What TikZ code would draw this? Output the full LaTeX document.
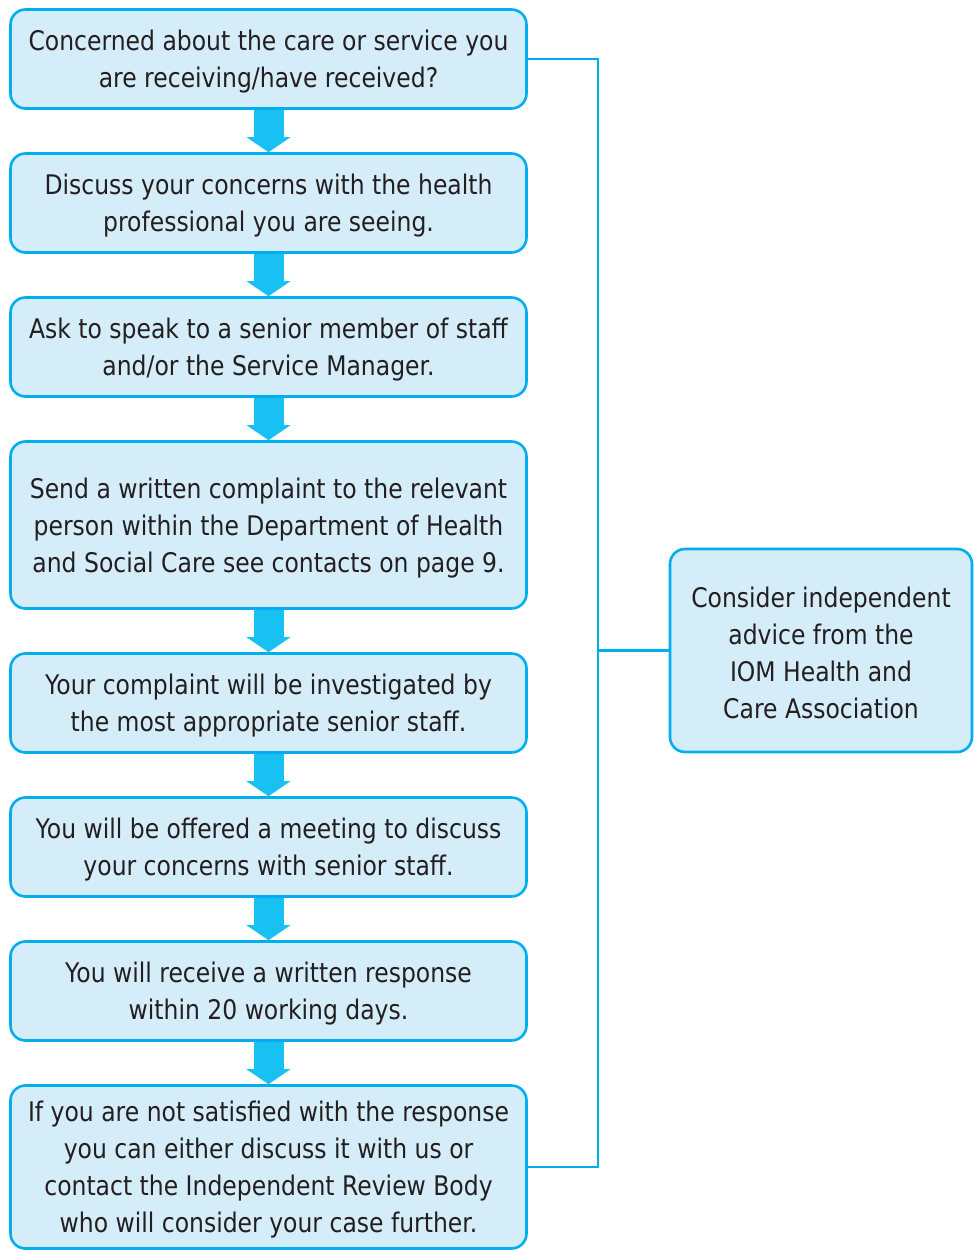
\documentclass[tikz,border=0pt]{standalone}
\usepackage{fontspec}
\setmainfont[FakeStretch=0.87]{DejaVu Sans}
\usepackage{tikz}
\usetikzlibrary{arrows.meta}

\definecolor{boxline}{HTML}{00AEEF}
\definecolor{boxfill}{HTML}{D5ECF9}
\definecolor{arrowfill}{HTML}{19C0F2}
\definecolor{inktext}{HTML}{231F20}

\newcommand{\topgap}{\rule{0pt}{26pt}}

\begin{document}
\begin{tikzpicture}[x=1pt,y=-1pt,
	stage/.style={draw=boxline, fill=boxfill, line width=2.6pt, rounded corners=15pt,
		minimum width=516pt, text=inktext, align=center,
		font=\fontsize{27}{37}\selectfont},
	flowarrow/.style={draw=arrowfill, line width=30pt,
		-{Triangle[width=44pt,length=15pt,line width=0pt]}},
	link/.style={draw=boxline, line width=2.8pt}]

	\useasboundingbox (0,0) rectangle (974,1252);

	\node[stage, minimum height=99pt] (b1) at (268.5,59) {\topgap Concerned about the care or service you\\are receiving/have received?};
	\node[stage, minimum height=99pt] (b2) at (268.5,203) {\topgap Discuss your concerns with the health\\professional you are seeing.};
	\node[stage, minimum height=99pt] (b3) at (268.5,347) {\topgap Ask to speak to a senior member of staff\\and/or the Service Manager.};
	\node[stage, minimum height=167pt] (b4) at (268.5,525) {\topgap Send a written complaint to the relevant\\person within the Department of Health\\and Social Care see contacts on page 9.};
	\node[stage, minimum height=99pt] (b5) at (268.5,703) {\topgap Your complaint will be investigated by\\the most appropriate senior staff.};
	\node[stage, minimum height=99pt] (b6) at (268.5,847) {\topgap You will be offered a meeting to discuss\\your concerns with senior staff.};
	\node[stage, minimum height=99pt] (b7) at (268.5,991) {\topgap You will receive a written response\\within 20 working days.};
	\node[stage, minimum height=163pt] (b8) at (268.5,1167) {\topgap If you are not satisfied with the response\\you can either discuss it with us or\\contact the Independent Review Body\\who will consider your case further.};

	\node[stage, minimum width=302pt, minimum height=203pt] (advice) at (821,650.5) {\topgap Consider independent\\advice from the\\IOM Health and\\Care Association};

	\foreach \a/\b in {b1/b2,b2/b3,b3/b4,b4/b5,b5/b6,b6/b7,b7/b8}
		\draw[flowarrow] (\a.south) -- (\b.north);

	\coordinate (spine) at (598,0);
	\draw[link] (b1.east) -| (spine |- b8.east) -- (b8.east);
	\draw[link] (spine |- advice.west) -- (advice.west);

\end{tikzpicture}
\end{document}
